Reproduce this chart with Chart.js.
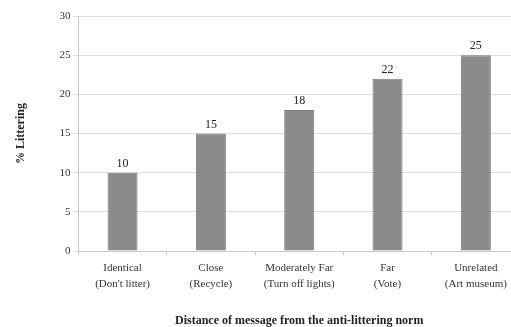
<!DOCTYPE html>
<html>
<head>
<meta charset="utf-8">
<script src="https://cdn.jsdelivr.net/npm/chart.js@4/dist/chart.umd.min.js"></script>
<style>
  html, body { margin: 0; padding: 0; background: #fff; overflow: hidden; }
  #wrap { width: 520px; height: 327px; }
</style>
</head>
<body>
<div id="wrap"><canvas id="c" width="520" height="327"></canvas></div>
<script>
// Categories: distance of the message from the anti-littering norm
const categories = [
  ["Identical", "(Don't litter)"],
  ["Close", "(Recycle)"],
  ["Moderately Far", "(Turn off lights)"],
  ["Far", "(Vote)"],
  ["Unrelated", "(Art museum)"]
];
// Percentage of people littering per condition
const littering = [10, 15, 18, 22, 25];
const yTicks = [0, 5, 10, 15, 20, 25, 30];

const serif = "'Liberation Serif', 'DejaVu Serif', serif";

// Draws each bar's value just above its top
const valueLabels = {
  id: 'valueLabels',
  afterDatasetsDraw(chart) {
    const ctx = chart.ctx;
    const meta = chart.getDatasetMeta(0);
    ctx.save();
    ctx.font = "12px " + serif;
    ctx.fillStyle = '#222';
    ctx.textAlign = 'center';
    ctx.textBaseline = 'bottom';
    meta.data.forEach((bar, i) => {
      ctx.fillText(String(littering[i]), bar.x, bar.y - 3);
    });
    ctx.restore();
  }
};

new Chart(document.getElementById('c'), {
  type: 'bar',
  data: {
    labels: categories,
    datasets: [{
      data: littering,
      backgroundColor: '#8a8a8a',
      borderColor: '#7c7c7c',
      borderWidth: 1,
      categoryPercentage: 1,
      barPercentage: 0.34
    }]
  },
  options: {
    responsive: false,
    animation: false,
    layout: { padding: { left: 10, right: 0, top: 16, bottom: 0 } },
    plugins: { legend: { display: false }, tooltip: { enabled: false } },
    scales: {
      y: {
        min: 0, max: 30,
        afterBuildTicks(scale) { scale.ticks = yTicks.map(v => ({ value: v })); },
        grid: { color: '#dcdcdc', lineWidth: 1, tickLength: 5 },
        border: { color: '#c8c8c8' },
        ticks: { color: '#333', font: { family: serif, size: 11 }, padding: 3 },
        title: {
          display: true, text: '% Littering', color: '#222',
          font: { family: serif, size: 12, weight: 'bold' }, padding: { bottom: 28 }
        }
      },
      x: {
        grid: { display: true, drawOnChartArea: false, color: '#c8c8c8', tickLength: 4, offset: true },
        border: { color: '#c8c8c8' },
        ticks: { color: '#333', font: { family: serif, size: 11, lineHeight: 1.45 }, padding: 5, maxRotation: 0, autoSkip: false },
        title: {
          display: true, text: 'Distance of message from the anti-littering norm', color: '#222',
          font: { family: serif, size: 12, weight: 'bold', lineHeight: 1 }, padding: { top: 18, bottom: 0 }
        }
      }
    }
  },
  plugins: [valueLabels]
});
</script>
</body>
</html>
